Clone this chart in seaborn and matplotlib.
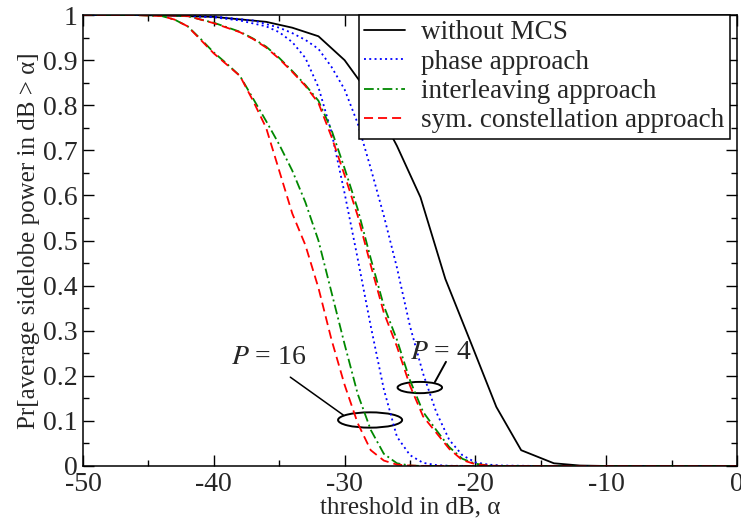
import matplotlib
matplotlib.use("Agg")
import matplotlib.pyplot as plt
from matplotlib.patches import Ellipse
from matplotlib.ticker import MultipleLocator, FormatStrFormatter
import seaborn as sns
import pandas as pd

# without MCS
x_nomcs = [-50, -46, -44, -40, -36, -34, -32, -30, -28, -26, -24.2, -22.3, -20.3, -18.4, -16.5, -14, -12, -10, 0]
y_nomcs = [1.0, 1.0, 0.999, 0.996, 0.985, 0.972, 0.953, 0.90, 0.82, 0.71, 0.596, 0.415, 0.27, 0.131, 0.035, 0.006, 0.001, 0.0, 0.0]

# phase approach
x_phase16 = [-50, -44, -42, -40, -38, -36, -35, -34, -33, -32, -31, -30, -29, -28, -27, -26, -25, -24, -23, -22, -20, 0]
y_phase16 = [1.0, 1.0, 0.998, 0.995, 0.988, 0.975, 0.962, 0.94, 0.905, 0.84, 0.74, 0.605, 0.46, 0.31, 0.17, 0.065, 0.024, 0.007, 0.002, 0.0005, 0.0, 0.0]
x_phase4 = [-50, -44, -40, -37, -35, -34, -33, -32, -31, -30, -29, -28, -27, -26, -25, -24, -23, -22, -21, -20, -19, -18, -15, 0]
y_phase4 = [1.0, 1.0, 0.997, 0.988, 0.972, 0.96, 0.945, 0.925, 0.885, 0.835, 0.76, 0.66, 0.555, 0.44, 0.31, 0.205, 0.12, 0.058, 0.024, 0.008, 0.003, 0.001, 0.0, 0.0]

# interleaving approach
x_inter16 = [-50, -46, -44, -43, -42, -41, -40, -39, -38, -37, -36, -35, -34, -33, -32, -31, -30, -29, -28, -27, -26, -25, -24, 0]
y_inter16 = [1.0, 1.0, 0.998, 0.99, 0.975, 0.947, 0.917, 0.892, 0.865, 0.815, 0.765, 0.713, 0.655, 0.585, 0.5, 0.385, 0.27, 0.16, 0.08, 0.027, 0.006, 0.001, 0.0, 0.0]
x_inter4 = [-50, -44, -42, -41, -40, -39, -38, -37, -36, -35, -34, -33, -32, -31, -30, -29, -28, -27, -26, -25, -24, -23, -22, -21, -20, -19, -18, 0]
y_inter4 = [1.0, 1.0, 0.998, 0.99, 0.983, 0.973, 0.963, 0.948, 0.93, 0.905, 0.876, 0.845, 0.81, 0.745, 0.66, 0.57, 0.46, 0.355, 0.28, 0.19, 0.12, 0.08, 0.042, 0.016, 0.005, 0.001, 0.0, 0.0]

# sym. constellation approach
x_sym16 = [-50, -46, -44, -43, -42, -41, -40, -39, -38, -37, -36, -35, -34, -33, -32, -31, -30, -29, -28, -27, -26, -25, -24, 0]
y_sym16 = [1.0, 1.0, 0.998, 0.99, 0.975, 0.945, 0.915, 0.89, 0.865, 0.81, 0.75, 0.655, 0.56, 0.49, 0.395, 0.28, 0.18, 0.095, 0.035, 0.012, 0.003, 0.001, 0.0, 0.0]
x_sym4 = [-50, -44, -42, -41, -40, -39, -38, -37, -36, -35, -34, -33, -32, -31, -30, -29, -28, -27, -26, -25, -24, -23, -22, -21, -20, -19, -18, 0]
y_sym4 = [1.0, 1.0, 0.998, 0.99, 0.982, 0.972, 0.962, 0.947, 0.928, 0.903, 0.874, 0.843, 0.805, 0.73, 0.645, 0.555, 0.445, 0.34, 0.265, 0.178, 0.11, 0.074, 0.038, 0.013, 0.004, 0.001, 0.0, 0.0]

legend_labels = ["without MCS", "phase approach", "interleaving approach", "sym. constellation approach"]

# annotation ellipses (center x, center y, width, height) and leader lines
ell16 = (-28.05, 0.102, 4.9, 0.034)
ell4 = (-24.25, 0.174, 3.4, 0.025)
line16 = ([-34.15, -30.1], [0.197, 0.113])
line4 = ([-22.25, -23.1], [0.231, 0.186])

sns.set_style("ticks")
plt.rcParams.update({
    "font.family": ["Liberation Serif", "DejaVu Serif"],
    "mathtext.fontset": "stix",
    "axes.unicode_minus": False,
    "lines.scale_dashes": False,
    "axes.edgecolor": "black",
    "axes.linewidth": 1.1,
})

fig = plt.figure(figsize=(7.41, 5.25), dpi=100)
ax = fig.add_axes([0.112, 0.1124, 0.8826, 0.8589])

lw = 1.3
styles = {
    "nomcs": dict(color="black", linestyle="-"),
    "phase": dict(color="#0000ff", linestyle=(0, (1.4, 2.4))),
    "inter": dict(color="#008800", linestyle=(0, (7, 2.5, 1.4, 2.5))),
    "sym": dict(color="#ff0000", linestyle=(0, (6.5, 3.6))),
}

series = [
    ("nomcs", x_nomcs, y_nomcs),
    ("phase", x_phase16, y_phase16),
    ("phase", x_phase4, y_phase4),
    ("inter", x_inter16, y_inter16),
    ("inter", x_inter4, y_inter4),
    ("sym", x_sym16, y_sym16),
    ("sym", x_sym4, y_sym4),
]
for key, xs, ys in series:
    df = pd.DataFrame({"x": xs, "y": ys})
    sns.lineplot(data=df, x="x", y="y", ax=ax, estimator=None, lw=lw, **styles[key])

handles = [plt.Line2D([], [], lw=lw, **styles[k]) for k in ["nomcs", "phase", "inter", "sym"]]
leg = ax.legend(handles, legend_labels, loc="upper right", bbox_to_anchor=(0.989, 1.0),
                borderaxespad=0, fontsize=19.5, frameon=True, fancybox=False,
                handlelength=1.5, labelspacing=0.16, borderpad=0.2, handletextpad=0.6)
leg.get_frame().set_edgecolor("black")
leg.get_frame().set_linewidth(1.1)
leg.get_frame().set_alpha(1)

# annotations
for cx, cy, w, h in [ell16, ell4]:
    ax.add_patch(Ellipse((cx, cy), w, h, fill=False, edgecolor="black", lw=1.4))
ax.plot(*line16, color="black", lw=1.1)
ax.plot(*line4, color="black", lw=1.4)
ax.text(-35.8, 0.24, r"$P$ = 16", fontsize=20, ha="center", va="center")
ax.text(-22.6, 0.252, r"$P$ = 4", fontsize=20, ha="center", va="center")

ax.set_xlim(-50, 0)
ax.set_ylim(0, 1)
ax.xaxis.set_major_locator(MultipleLocator(10))
ax.xaxis.set_minor_locator(MultipleLocator(5))
ax.yaxis.set_major_locator(MultipleLocator(0.1))
ax.yaxis.set_minor_locator(MultipleLocator(0.05))
ax.yaxis.set_major_formatter(FormatStrFormatter("%g"))
ax.xaxis.set_major_formatter(FormatStrFormatter("%g"))
ax.tick_params(which="both", direction="in", top=True, right=True, labelsize=20, color="black")
ax.tick_params(which="major", length=8, width=1.0, pad=4)
ax.tick_params(which="minor", length=4.5, width=1.0)

ax.set_xlabel("threshold in dB, α", fontsize=18, labelpad=0)
ax.set_ylabel("Pr[average sidelobe power in dB > α]", fontsize=18, labelpad=2)

fig.savefig("out.png", dpi=100)
